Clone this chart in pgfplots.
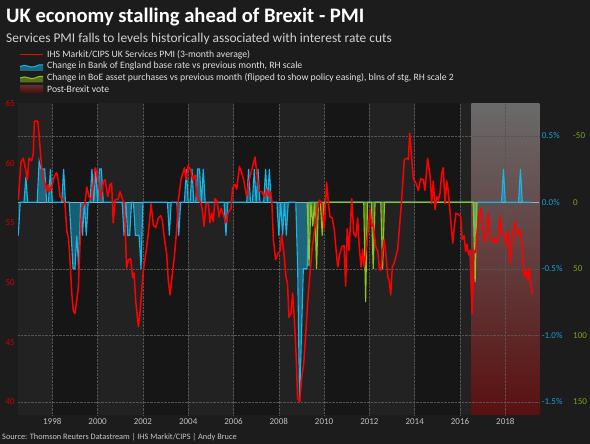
\documentclass[border=0pt]{standalone}
\usepackage{pgfplots}
\pgfplotsset{compat=1.18}
\usepackage{fontspec}
\setmainfont{Carlito}
\definecolor{figbg}{HTML}{1C1C1C}
\definecolor{bandlight}{HTML}{222222}
\definecolor{banddark}{HTML}{161616}
\definecolor{gridc}{HTML}{555555}
\definecolor{zeroc}{HTML}{B0B0B0}
\definecolor{bluec}{HTML}{1AB6E6}
\definecolor{greenc}{HTML}{8FC31F}
\definecolor{redc}{HTML}{FF0000}
\definecolor{redlab}{HTML}{D40000}
\definecolor{bluelab}{HTML}{1A9FD8}
\definecolor{greenlab}{HTML}{7AA51A}
\definecolor{xlab}{HTML}{C0C0C0}
\definecolor{shadetop}{HTML}{6A6A6A}
\definecolor{shadebot}{HTML}{5A1010}

\pgfplotsset{
  myax/.style={at={(18pt,29pt)}, anchor=south west, scale only axis,
    width=521.3pt, height=311.7pt, xmin=1996.486, xmax=2019.5,
    axis line style={draw=none}, tick style={draw=none},
    /pgf/number format/assume math mode=true},
}

\begin{document}
\begin{tikzpicture}[x=1pt,y=1pt]
\fill[figbg] (0,0) rectangle (590,444);
\useasboundingbox (0,0) rectangle (590,444);

% background bands and Brexit shading
\begin{axis}[myax, ymin=0, ymax=1, hide axis]
\fill[bandlight] (axis cs:1996.486,0) rectangle (axis cs:1998,1);
\fill[banddark] (axis cs:1998,0) rectangle (axis cs:2000,1);
\fill[bandlight] (axis cs:2000,0) rectangle (axis cs:2002,1);
\fill[banddark] (axis cs:2002,0) rectangle (axis cs:2004,1);
\fill[bandlight] (axis cs:2004,0) rectangle (axis cs:2006,1);
\fill[banddark] (axis cs:2006,0) rectangle (axis cs:2008,1);
\fill[bandlight] (axis cs:2008,0) rectangle (axis cs:2010,1);
\fill[banddark] (axis cs:2010,0) rectangle (axis cs:2012,1);
\fill[bandlight] (axis cs:2012,0) rectangle (axis cs:2014,1);
\fill[banddark] (axis cs:2014,0) rectangle (axis cs:2016,1);
\fill[bandlight] (axis cs:2016,0) rectangle (axis cs:2016.5,1);
\shade[top color=shadetop, bottom color=shadebot] (axis cs:2016.5,0) rectangle (axis cs:2019.5,1);
\end{axis}

% Bank rate change, % scale (right)
\begin{axis}[myax, ymin=-1.599, ymax=0.744,
  xtick={1998,2000,...,2018},
  xticklabels={1998,2000,2002,2004,2006,2008,2010,2012,2014,2016,2018},
  xticklabel style={font=\fontsize{9}{10}\selectfont, text=xlab, inner sep=0pt, yshift=-3.5pt},
  ytick={-1.5,-1,-0.5,0,0.5},
  yticklabels={-1.5\%,-1.0\%,-0.5\%,0.0\%,0.5\%},
  yticklabel pos=right,
  yticklabel style={anchor=west, inner sep=0pt, xshift=2.4pt, text=bluelab, font=\fontsize{9}{10}\selectfont},
  xmajorgrids, ymajorgrids,
  grid style={gridc, densely dotted, line width=0.5pt},
  extra y ticks={0}, extra y tick labels={},
  extra y tick style={grid style={solid, zeroc, line width=0.6pt}},
]
\addplot[draw=none, fill=bluec, fill opacity=0.45] coordinates {
(1996.5,-0.25) (1996.583,0) (1996.75,0) (1996.833,0.19) (1996.917,0)
(1997.333,0) (1997.417,0.31) (1997.5,0.25) (1997.583,0.25) (1997.667,0.25) (1997.75,0) (1997.833,0) (1997.917,0.25) (1998.0,0)
(1998.417,0) (1998.5,0.25) (1998.583,0) (1998.75,0) (1998.833,-0.25) (1998.917,-0.5) (1999.0,-0.5)
(1999.083,-0.25) (1999.167,-0.5) (1999.25,0) (1999.333,-0.25) (1999.417,0) (1999.5,-0.25) (1999.583,0) (1999.667,0) (1999.75,0.25) (1999.833,0) (1999.917,0.25) (2000.0,0)
(2000.083,0.25) (2000.167,0.25) (2000.25,0) (2001.083,0) (2001.167,-0.25) (2001.25,0) (2001.333,-0.25) (2001.417,-0.25) (2001.5,0) (2001.583,0) (2001.667,-0.25) (2001.75,-0.25) (2001.833,-0.25) (2001.917,-0.5) (2002.0,0)
(2003.083,0) (2003.167,-0.25) (2003.25,0) (2003.5,0) (2003.583,-0.25) (2003.667,0) (2003.833,0) (2003.917,0.25) (2004.0,0)
(2004.083,0) (2004.167,0.25) (2004.25,0) (2004.333,0) (2004.417,0.25) (2004.5,0.25) (2004.583,0) (2004.667,0.25) (2004.75,0)
(2005.583,0) (2005.667,-0.25) (2005.75,0) (2006.583,0) (2006.667,0.25) (2006.75,0) (2006.833,0) (2006.917,0.25) (2007.0,0)
(2007.083,0.25) (2007.167,0) (2007.333,0) (2007.417,0.25) (2007.5,0) (2007.583,0.25) (2007.667,0) (2007.917,0) (2008.0,-0.25)
(2008.083,0) (2008.167,-0.25) (2008.25,0) (2008.333,-0.25) (2008.417,0) (2008.75,0) (2008.833,-0.5) (2008.917,-1.5) (2009.0,-1.0)
(2009.083,-0.5) (2009.167,-0.5) (2009.25,-0.5) (2009.333,0) (2016.583,0) (2016.667,-0.25) (2016.75,0)
(2017.833,0) (2017.917,0.25) (2018.0,0) (2018.583,0) (2018.667,0.25) (2018.75,0) (2019.17,0)
} \closedcycle;
\addplot[bluec, line width=1.1pt] coordinates {
(1996.5,-0.25) (1996.583,0) (1996.75,0) (1996.833,0.19) (1996.917,0)
(1997.333,0) (1997.417,0.31) (1997.5,0.25) (1997.583,0.25) (1997.667,0.25) (1997.75,0) (1997.833,0) (1997.917,0.25) (1998.0,0)
(1998.417,0) (1998.5,0.25) (1998.583,0) (1998.75,0) (1998.833,-0.25) (1998.917,-0.5) (1999.0,-0.5)
(1999.083,-0.25) (1999.167,-0.5) (1999.25,0) (1999.333,-0.25) (1999.417,0) (1999.5,-0.25) (1999.583,0) (1999.667,0) (1999.75,0.25) (1999.833,0) (1999.917,0.25) (2000.0,0)
(2000.083,0.25) (2000.167,0.25) (2000.25,0) (2001.083,0) (2001.167,-0.25) (2001.25,0) (2001.333,-0.25) (2001.417,-0.25) (2001.5,0) (2001.583,0) (2001.667,-0.25) (2001.75,-0.25) (2001.833,-0.25) (2001.917,-0.5) (2002.0,0)
(2003.083,0) (2003.167,-0.25) (2003.25,0) (2003.5,0) (2003.583,-0.25) (2003.667,0) (2003.833,0) (2003.917,0.25) (2004.0,0)
(2004.083,0) (2004.167,0.25) (2004.25,0) (2004.333,0) (2004.417,0.25) (2004.5,0.25) (2004.583,0) (2004.667,0.25) (2004.75,0)
(2005.583,0) (2005.667,-0.25) (2005.75,0) (2006.583,0) (2006.667,0.25) (2006.75,0) (2006.833,0) (2006.917,0.25) (2007.0,0)
(2007.083,0.25) (2007.167,0) (2007.333,0) (2007.417,0.25) (2007.5,0) (2007.583,0.25) (2007.667,0) (2007.917,0) (2008.0,-0.25)
(2008.083,0) (2008.167,-0.25) (2008.25,0) (2008.333,-0.25) (2008.417,0) (2008.75,0) (2008.833,-0.5) (2008.917,-1.5) (2009.0,-1.0)
(2009.083,-0.5) (2009.167,-0.5) (2009.25,-0.5) (2009.333,0) (2016.583,0) (2016.667,-0.25) (2016.75,0)
(2017.833,0) (2017.917,0.25) (2018.0,0) (2018.583,0) (2018.667,0.25) (2018.75,0) (2019.17,0)
};
\end{axis}

% Asset purchases, bn stg, flipped (right scale 2)
\begin{axis}[myax, ymin=-74.4, ymax=159.9, y dir=reverse,
  xtick=\empty,
  ytick={-50,0,50,100,150},
  yticklabels={-50,0,50,100,150},
  yticklabel pos=right,
  yticklabel style={anchor=west, inner sep=0pt, xshift=33.7pt, text=greenlab, font=\fontsize{9}{10}\selectfont},
]
\addplot[draw=none, fill=greenc, fill opacity=0.5] coordinates {
(2009.25,0) (2009.333,48) (2009.417,0) (2009.5,18) (2009.583,0) (2009.667,50) (2009.75,0) (2009.833,0) (2009.917,25) (2010.0,0)
(2011.75,0) (2011.833,75) (2011.917,0) (2012.083,0) (2012.167,50) (2012.25,0) (2012.5,0) (2012.583,50) (2012.667,0)
(2016.583,0) (2016.667,60) (2016.75,0)
} \closedcycle;
\addplot[greenc, line width=1.1pt] coordinates {
(2009.25,0) (2009.333,48) (2009.417,0) (2009.5,18) (2009.583,0) (2009.667,50) (2009.75,0) (2009.833,0) (2009.917,25) (2010.0,0)
(2011.75,0) (2011.833,75) (2011.917,0) (2012.083,0) (2012.167,50) (2012.25,0) (2012.5,0) (2012.583,50) (2012.667,0)
(2016.583,0) (2016.667,60) (2016.75,0)
};
\end{axis}

% Services PMI (left scale)
\begin{axis}[myax, ymin=38.91, ymax=65,
  xtick=\empty,
  ytick={40,45,50,55,60,65},
  yticklabel style={inner sep=0pt, xshift=-3pt, text=redlab, font=\fontsize{9}{10}\selectfont},
]
\addplot[redc, line width=1.5pt, line join=round] coordinates {
(1996.50,56.9) (1996.62,60.1) (1996.72,60.4) (1996.84,59.3) (1996.90,58.6) (1996.97,60.4) (1997.09,60.2) (1997.16,60.8) (1997.21,63.5) (1997.36,63.5)
(1997.41,62.5) (1997.50,60.3) (1997.58,58.7) (1997.68,58.3) (1997.75,57.6) (1997.82,58.2) (1997.90,57.6) (1998.00,58.2) (1998.09,58.9) (1998.19,59.2)
(1998.26,58.6) (1998.34,57.2) (1998.49,56.9) (1998.56,56.6) (1998.64,54.3) (1998.71,53.8) (1998.78,51.9) (1998.86,49.1) (1998.93,47.6) (1999.00,47.4)
(1999.08,48.5) (1999.15,49.6) (1999.22,53.0) (1999.30,56.3) (1999.44,56.6) (1999.52,58.0) (1999.62,57.2) (1999.74,56.9) (1999.89,59.6) (1999.96,59.3)
(2000.06,57.9) (2000.15,57.0) (2000.25,58.4) (2000.33,58.6) (2000.45,57.2) (2000.55,58.2) (2000.62,58.3) (2000.69,55.0) (2000.77,56.9) (2000.91,57.0)
(2000.99,57.6) (2001.09,57.0) (2001.18,56.6) (2001.28,51.2) (2001.36,51.9) (2001.46,52.0) (2001.55,50.4) (2001.61,50.8) (2001.68,48.5) (2001.80,46.3)
(2001.87,47.4) (2001.95,49.4) (2002.02,51.0) (2002.17,53.0) (2002.27,54.7) (2002.36,56.6) (2002.46,54.8) (2002.57,54.6) (2002.68,55.4) (2002.79,55.6)
(2002.86,55.2) (2002.94,53.8) (2003.05,52.4) (2003.12,50.2) (2003.20,48.96) (2003.27,50.2) (2003.39,52.2) (2003.49,54.4) (2003.56,56.8) (2003.68,58.6)
(2003.83,59.6) (2003.90,58.6) (2004.00,59.8) (2004.11,59.4) (2004.20,58.6) (2004.30,59.0) (2004.38,57.2) (2004.48,56.9) (2004.57,56.6) (2004.62,56.1)
(2004.70,54.7) (2004.79,56.6) (2004.89,56.6) (2004.96,55.0) (2005.04,55.8) (2005.11,55.1) (2005.18,57.0) (2005.28,56.8) (2005.36,55.5) (2005.45,56.2)
(2005.55,55.7) (2005.66,55.0) (2005.77,55.9) (2005.89,56.2) (2005.96,57.9) (2006.07,58.2) (2006.14,57.8) (2006.26,59.7) (2006.36,59.2) (2006.46,58.5)
(2006.58,57.2) (2006.68,58.5) (2006.80,59.4) (2006.95,60.5) (2007.05,58.8) (2007.14,57.6) (2007.25,57.6) (2007.35,57.2) (2007.47,57.8) (2007.54,57.2)
(2007.61,57.6) (2007.69,56.9) (2007.76,53.6) (2007.86,51.9) (2007.98,52.5) (2008.05,52.6) (2008.13,54.0) (2008.24,52.2) (2008.32,50.4) (2008.38,50.0)
(2008.45,47.1) (2008.54,47.4) (2008.61,49.1) (2008.68,47.1) (2008.76,44.1) (2008.83,40.3) (2008.92,40.0) (2009.01,42.1) (2009.10,43.2) (2009.19,45.7)
(2009.28,48.5) (2009.38,50.8) (2009.48,53.0) (2009.60,54.7) (2009.70,56.1) (2009.79,56.9) (2009.89,56.6) (2010.01,54.5) (2010.11,58.4) (2010.19,56.6)
(2010.26,55.5) (2010.36,55.4) (2010.45,54.4) (2010.53,52.7) (2010.60,51.3) (2010.67,52.2) (2010.78,53.0) (2010.88,53.1) (2010.95,49.7) (2011.02,54.5)
(2011.10,52.7) (2011.22,57.0) (2011.31,54.1) (2011.40,53.8) (2011.48,55.4) (2011.55,53.0) (2011.63,51.3) (2011.70,52.8) (2011.77,51.3) (2011.88,53.3)
(2011.95,54.4) (2012.03,56.1) (2012.10,54.7) (2012.17,54.9) (2012.28,53.0) (2012.37,52.6) (2012.44,51.2) (2012.51,51.0) (2012.57,52.5) (2012.65,53.6)
(2012.73,52.3) (2012.81,50.5) (2012.87,50.2) (2012.94,48.96) (2013.01,51.3) (2013.09,51.6) (2013.17,52.2) (2013.25,52.8) (2013.32,54.5) (2013.40,56.3)
(2013.47,58.3) (2013.54,60.3) (2013.65,60.4) (2013.72,60.3) (2013.78,62.5) (2013.87,60.3) (2013.94,58.7) (2014.06,58.3) (2014.16,57.7) (2014.26,58.7)
(2014.38,58.6) (2014.45,57.7) (2014.57,60.4) (2014.68,58.9) (2014.75,56.6) (2014.82,58.5) (2014.90,56.1) (2014.97,57.2) (2015.04,56.9) (2015.12,57.5)
(2015.19,59.1) (2015.26,59.6) (2015.34,56.6) (2015.41,58.5) (2015.48,57.7) (2015.59,55.2) (2015.68,53.3) (2015.75,54.7) (2015.82,55.8) (2015.93,55.7)
(2016.03,55.5) (2016.10,53.6) (2016.18,53.9) (2016.25,52.6) (2016.31,53.2) (2016.38,52.3) (2016.44,52.7) (2016.53,47.4) (2016.62,52.7) (2016.69,52.5)
(2016.76,54.4) (2016.85,55.8) (2016.93,56.2) (2017.00,54.7) (2017.10,53.3) (2017.18,54.7) (2017.25,55.8) (2017.34,53.8) (2017.43,53.4) (2017.51,53.7)
(2017.59,53.3) (2017.68,53.7) (2017.77,55.5) (2017.85,54.0) (2017.94,54.1) (2018.03,53.1) (2018.13,54.4) (2018.21,51.6) (2018.30,53.3) (2018.43,55.1)
(2018.52,53.9) (2018.61,54.4) (2018.68,54.0) (2018.75,52.7) (2018.84,50.5) (2018.91,51.0) (2018.99,50.2) (2019.05,51.2) (2019.10,50.2) (2019.19,49.0)
};
\end{axis}

% titles
\node[anchor=base west, inner sep=0pt, text=white, font=\fontsize{20.6}{24}\selectfont\bfseries] at (6,421.3) {UK economy stalling ahead of Brexit - PMI};
\node[anchor=base west, inner sep=0pt, text=white!82!black, font=\fontsize{13.4}{15}\selectfont] at (6,401.7) {Services PMI falls to levels historically associated with interest rate cuts};

% legend
\draw[redc, line width=1.5pt] (20,389.7) -- (43,389.7);
\fill[bluec, fill opacity=0.5] (20,373) -- (20,377.5) .. controls (26,381) and (30,375) .. (35,377.5) .. controls (38,379) and (41,380) .. (43,379) -- (43,373) -- cycle;
\draw[bluec, line width=1pt] (20,377.5) .. controls (26,381) and (30,375) .. (35,377.5) .. controls (38,379) and (41,380) .. (43,379);
\fill[greenc, fill opacity=0.5] (20,361.5) -- (20,366) .. controls (26,369.5) and (30,363.5) .. (35,366) .. controls (38,367.5) and (41,368.5) .. (43,367.5) -- (43,361.5) -- cycle;
\draw[greenc, line width=1pt] (20,366) .. controls (26,369.5) and (30,363.5) .. (35,366) .. controls (38,367.5) and (41,368.5) .. (43,367.5);
\shade[top color=shadebot!70!shadetop, bottom color=shadebot!80!black] (20,351) rectangle (43,358);
\begin{scope}[every node/.style={anchor=base west, inner sep=0pt, text=white!88!black, font=\fontsize{9.7}{11}\selectfont}]
\node at (47,386.7) {IHS Markit/CIPS UK Services PMI (3-month average)};
\node at (47,375.0) {Change in Bank of England base rate vs previous month, RH scale};
\node at (47,363.3) {Change in BoE asset purchases vs previous month (flipped to show policy easing), blns of stg, RH scale 2};
\node at (47,351.8) {Post-Brexit vote};
\end{scope}

% source
\node[anchor=base west, inner sep=0pt, text=white!78!black, font=\fontsize{8.3}{9}\selectfont] at (2,4) {Source: Thomson Reuters Datastream | IHS Markit/CIPS | Andy Bruce};
\end{tikzpicture}
\end{document}
